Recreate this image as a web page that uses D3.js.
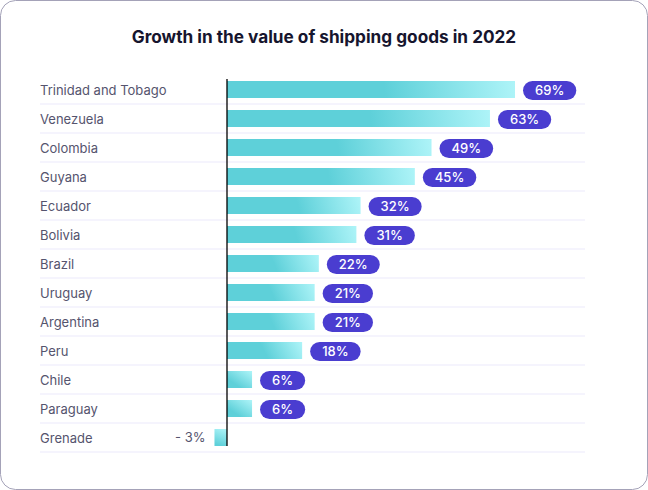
<!DOCTYPE html>
<html>
<head>
<meta charset="utf-8">
<script src="https://cdn.jsdelivr.net/npm/d3@7"></script>
<style>
  html, body { margin: 0; padding: 0; background: #ffffff; }
  svg { display: block; }
</style>
</head>
<body>
<svg id="chart" width="648" height="490"></svg>
<script>
const title = "Growth in the value of shipping goods in 2022";
const countries = ["Trinidad and Tobago", "Venezuela", "Colombia", "Guyana", "Ecuador", "Bolivia", "Brazil", "Uruguay", "Argentina", "Peru", "Chile", "Paraguay", "Grenade"];
const growth = [69, 63, 49, 45, 32, 31, 22, 21, 21, 18, 6, 6, -3];

const W = 648, H = 490;
const font = "Inter, 'Open Sans', sans-serif";
const svg = d3.select("#chart");

// card
svg.append("rect")
  .attr("x", 0.5).attr("y", 0.5)
  .attr("width", W - 1).attr("height", H - 1)
  .attr("rx", 15).attr("ry", 15)
  .attr("fill", "#ffffff")
  .attr("stroke", "#a4a2b8").attr("stroke-width", 1);

svg.append("text")
  .attr("x", 324).attr("y", 38)
  .attr("text-anchor", "middle").attr("dominant-baseline", "middle")
  .attr("font-family", font).attr("font-weight", 700).attr("font-size", 17.2)
  .attr("fill", "#16152e")
  .text(title);

const defs = svg.append("defs");

const y = d3.scaleBand().domain(countries).range([75, 452]).paddingInner(0).paddingOuter(0);
const x = d3.scaleLinear().domain([0, 69]).range([227, 515]);
const barH = 17;

const data = countries.map((c, i) => ({ c, v: growth[i], i }));

// per-bar gradients
data.forEach(d => {
  const x0 = Math.min(x(0), x(d.v)), x1 = Math.max(x(0), x(d.v));
  const w = x1 - x0;
  const top = y(d.c) + (y.bandwidth() - barH) / 2;
  const g = defs.append("linearGradient")
    .attr("id", "grad" + d.i)
    .attr("gradientUnits", "userSpaceOnUse")
    .attr("x1", x0 + 0.55 * w).attr("y1", top + barH)
    .attr("x2", x1).attr("y2", top);
  g.append("stop").attr("offset", "0").attr("stop-color", "#5ed0d9");
  g.append("stop").attr("offset", "1").attr("stop-color", "#aef4f8");
});

const row = svg.append("g").selectAll("g.row").data(data)
  .join("g").attr("class", "row");

// separators
row.append("line")
  .attr("x1", 40).attr("x2", 585)
  .attr("y1", d => y(d.c) + y.bandwidth()).attr("y2", d => y(d.c) + y.bandwidth())
  .attr("stroke", "#ebe9fb").attr("stroke-width", 1.2);

// labels
row.append("text")
  .attr("x", 40).attr("y", d => y(d.c) + y.bandwidth() / 2 + 1.5)
  .attr("dominant-baseline", "middle")
  .attr("font-family", font).attr("font-size", 13)
  .attr("fill", "#55546e")
  .text(d => d.c);

// bars
row.append("rect")
  .attr("x", d => Math.min(x(0), x(d.v)))
  .attr("y", d => y(d.c) + (y.bandwidth() - barH) / 2)
  .attr("width", d => Math.abs(x(d.v) - x(0)))
  .attr("height", barH)
  .attr("fill", d => "url(#grad" + d.i + ")");

// value pills (positive)
row.filter(d => d.v >= 0).each(function(d) {
  const g = d3.select(this);
  const cy = y(d.c) + y.bandwidth() / 2 + 1;
  const t = g.append("text")
    .attr("y", cy + 0.5).attr("dominant-baseline", "middle")
    .attr("text-anchor", "middle")
    .attr("font-family", font).attr("font-weight", 500).attr("font-size", 13)
    .attr("fill", "#ffffff")
    .text(d.v + "%");
  const tw = t.node().getComputedTextLength();
  const pw = tw + 24, ph = 19;
  const px = x(d.v) + 8;
  g.insert("rect", "text:last-of-type")
    .attr("x", px).attr("y", cy - ph / 2)
    .attr("width", pw).attr("height", ph)
    .attr("rx", ph / 2).attr("fill", "#4a3dd0");
  t.attr("x", px + pw / 2).raise();
});

// negative labels
row.filter(d => d.v < 0)
  .append("text")
  .attr("x", d => x(d.v) - 9)
  .attr("y", d => y(d.c) + y.bandwidth() / 2 + 1)
  .attr("dominant-baseline", "middle").attr("text-anchor", "end")
  .attr("font-family", font).attr("font-size", 13)
  .attr("fill", "#55546e")
  .text(d => "- " + Math.abs(d.v) + "%");

// zero axis
svg.append("line")
  .attr("x1", x(0)).attr("x2", x(0))
  .attr("y1", 79).attr("y2", 446)
  .attr("stroke", "#000000").attr("stroke-width", 1.3);
</script>
</body>
</html>
